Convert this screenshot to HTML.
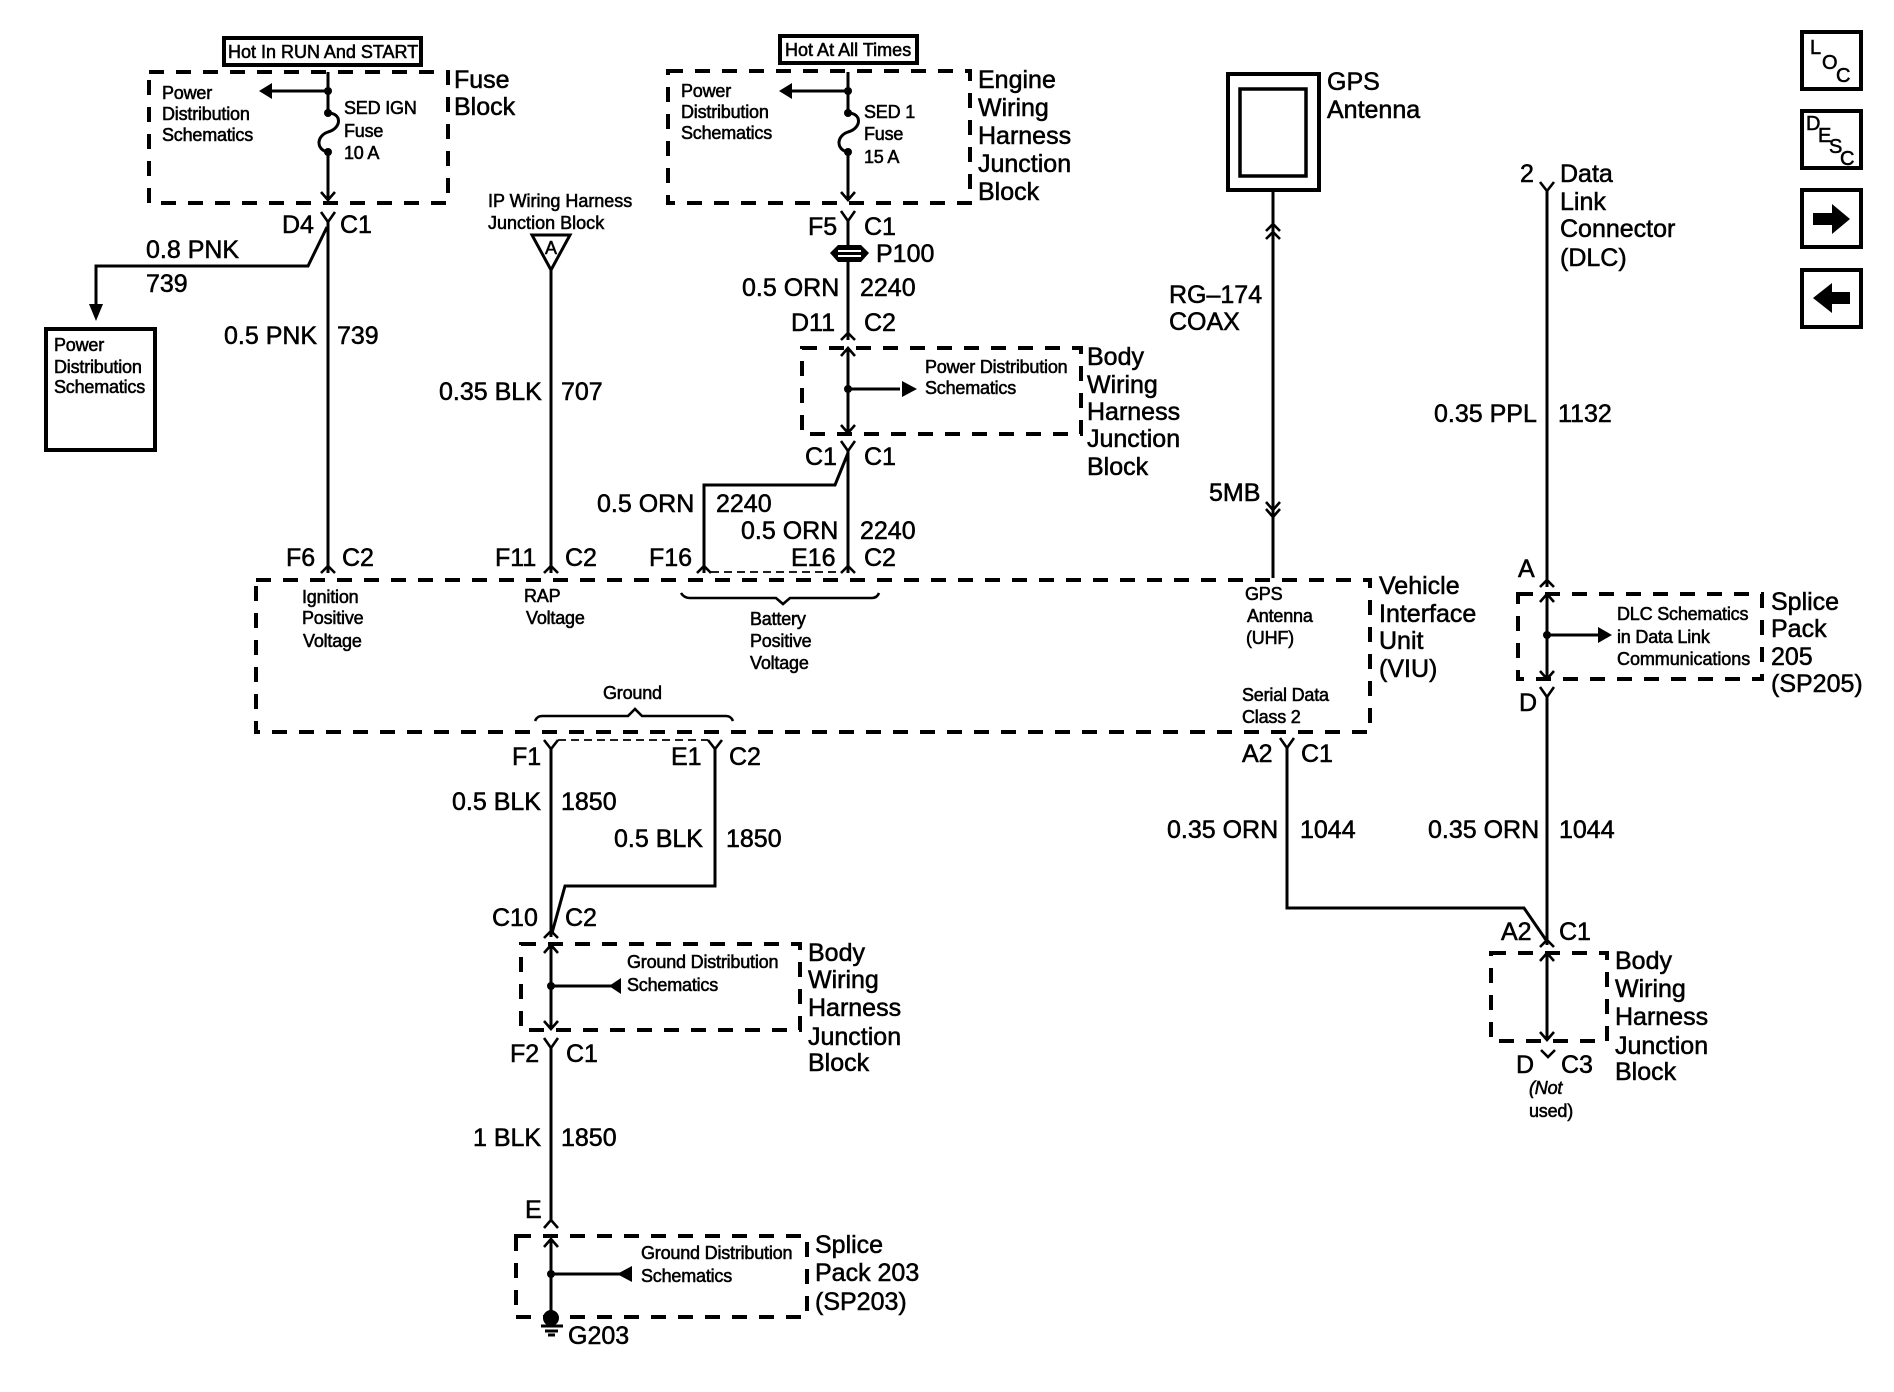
<!DOCTYPE html>
<html><head><meta charset="utf-8"><title>VIU Schematic</title>
<style>
html,body{margin:0;padding:0;background:#fff}
svg{display:block}
text{font-family:"Liberation Sans",sans-serif;fill:#000;stroke:#000;stroke-width:.55}
.l{font-size:25px}
.s{font-size:18px;letter-spacing:-.2px}
.w{fill:none;stroke:#000;stroke-width:3}
.c{fill:none;stroke:#000;stroke-width:2.6}
.d{fill:none;stroke:#000;stroke-width:4;stroke-dasharray:15 12}
.t{fill:none;stroke:#000;stroke-width:1.8;stroke-dasharray:8 5}
.b{fill:none;stroke:#000;stroke-width:4}
.f{fill:#000;stroke:none}
</style></head><body>
<svg width="1894" height="1392" viewBox="0 0 1894 1392" xmlns="http://www.w3.org/2000/svg">
<rect width="1894" height="1392" fill="#fff"/>

<!-- Fuse block -->
<rect class="b" x="224" y="38" width="197" height="27"/>
<text class="s" x="228" y="58" textLength="190">Hot In RUN And START</text>
<rect class="d" x="149" y="72" width="299" height="131"/>
<path class="w" d="M328 72V113M328 152V200M328 91H270"/>
<path class="w" d="M328 113C342 113 342 128 328 132C316 136 316 150 328 152"/>
<circle class="f" cx="328" cy="91" r="4"/><circle class="f" cx="328" cy="113" r="4"/><circle class="f" cx="328" cy="152" r="4"/>
<polygon class="f" points="259,91 272,83 272,99"/>
<path class="c" d="M321 192L328 200L335 192"/>
<text class="s" x="162" y="99">Power</text><text class="s" x="162" y="120">Distribution</text><text class="s" x="162" y="141">Schematics</text>
<text class="s" x="344" y="114">SED IGN</text><text class="s" x="344" y="137">Fuse</text><text class="s" x="344" y="159">10 A</text>
<text class="l" x="454" y="88">Fuse</text><text class="l" x="454" y="115">Block</text>
<path class="c" d="M321 212L328 222L335 212"/>
<text class="l" x="282" y="233">D4</text><text class="l" x="340" y="233">C1</text>
<path class="w" d="M328 222V573"/>
<path class="w" d="M327 227L308 266H96V305"/>
<polygon class="f" points="89,304 103,304 96,321"/>
<text class="l" x="146" y="258">0.8 PNK</text><text class="l" x="146" y="292">739</text>
<rect class="b" x="46" y="329" width="109" height="121"/>
<text class="s" x="54" y="351">Power</text><text class="s" x="54" y="373">Distribution</text><text class="s" x="54" y="393">Schematics</text>
<text class="l" x="224" y="344">0.5 PNK</text><text class="l" x="337" y="344">739</text>

<!-- IP -->
<text class="s" x="488" y="207" textLength="144">IP Wiring Harness</text>
<text class="s" x="488" y="229" textLength="116">Junction Block</text>
<polygon points="532,235 570,235 551,270" fill="#fff" stroke="#000" stroke-width="3"/>
<text class="s" x="545" y="254">A</text>
<path class="w" d="M551 270V573"/>
<text class="l" x="439" y="400">0.35 BLK</text><text class="l" x="561" y="400">707</text>

<!-- Engine block -->
<rect class="b" x="780" y="36" width="137" height="27"/>
<text class="s" x="785" y="56" textLength="126">Hot At All Times</text>
<rect class="d" x="668" y="71" width="302" height="132"/>
<path class="w" d="M848 72V113M848 152V200M848 91H790"/>
<path class="w" d="M848 113C862 113 862 128 848 132C836 136 836 150 848 152"/>
<circle class="f" cx="848" cy="91" r="4"/><circle class="f" cx="848" cy="113" r="4"/><circle class="f" cx="848" cy="152" r="4"/>
<polygon class="f" points="779,91 792,83 792,99"/>
<path class="c" d="M841 192L848 200L855 192"/>
<text class="s" x="681" y="97">Power</text><text class="s" x="681" y="118">Distribution</text><text class="s" x="681" y="139">Schematics</text>
<text class="s" x="864" y="118">SED 1</text><text class="s" x="864" y="140">Fuse</text><text class="s" x="864" y="163">15 A</text>
<text class="l" x="978" y="88">Engine</text><text class="l" x="978" y="116">Wiring</text><text class="l" x="978" y="144">Harness</text><text class="l" x="978" y="172">Junction</text><text class="l" x="978" y="200">Block</text>
<path class="c" d="M841 211L848 221L855 211"/>
<text class="l" x="808" y="235">F5</text><text class="l" x="864" y="235">C1</text>
<path class="w" d="M848 221V340"/>
<polygon class="f" points="830,253 838,245 861,245 869,253 861,262 838,262"/>
<rect x="838" y="250" width="23" height="2" fill="#fff"/><rect x="838" y="255" width="23" height="2" fill="#fff"/>
<text class="l" x="876" y="262">P100</text>
<text class="l" x="742" y="296">0.5 ORN</text><text class="l" x="860" y="296">2240</text>
<text class="l" x="791" y="331">D11</text><text class="l" x="864" y="331">C2</text>
<path class="c" d="M841 340L848 333L855 340"/>

<!-- Body JB upper -->
<rect class="d" x="802" y="348" width="279" height="86"/>
<path class="w" d="M848 348V433M848 389H900"/>
<path class="c" d="M841 356L848 348L855 356M841 425L848 433L855 425"/>
<circle class="f" cx="848" cy="389" r="4"/>
<polygon class="f" points="902,381 917,389 902,397"/>
<text class="s" x="925" y="373">Power Distribution</text><text class="s" x="925" y="394">Schematics</text>
<text class="l" x="1087" y="365">Body</text><text class="l" x="1087" y="393">Wiring</text><text class="l" x="1087" y="420">Harness</text><text class="l" x="1087" y="447">Junction</text><text class="l" x="1087" y="475">Block</text>
<path class="c" d="M841 441L848 451L855 441"/>
<text class="l" x="805" y="465">C1</text><text class="l" x="864" y="465">C1</text>
<path class="w" d="M848 451V573M848 453L835 485H704V573"/>
<text class="l" x="597" y="512">0.5 ORN</text><text class="l" x="716" y="512">2240</text>
<text class="l" x="741" y="539">0.5 ORN</text><text class="l" x="860" y="539">2240</text>
<text class="l" x="286" y="566">F6</text><text class="l" x="342" y="566">C2</text>
<text class="l" x="495" y="566">F11</text><text class="l" x="565" y="566">C2</text>
<text class="l" x="649" y="566">F16</text><text class="l" x="791" y="566">E16</text><text class="l" x="864" y="566">C2</text>
<path class="c" d="M321 573L328 566L335 573M544 573L551 566L558 573M697 573L704 566L711 573M841 573L848 566L855 573"/>
<path class="t" d="M711 572H842"/>

<!-- VIU -->
<rect class="d" x="256" y="580" width="1114" height="152"/>
<text class="s" x="302" y="603">Ignition</text><text class="s" x="302" y="624">Positive</text><text class="s" x="303" y="647">Voltage</text>
<text class="s" x="524" y="602">RAP</text><text class="s" x="526" y="624">Voltage</text>
<path class="c" d="M681 593Q684 598 690 598H776L783 604L790 598H872Q877 598 879 593"/>
<text class="s" x="750" y="625">Battery</text><text class="s" x="750" y="647">Positive</text><text class="s" x="750" y="669">Voltage</text>
<text class="s" x="603" y="699">Ground</text>
<path class="c" d="M535 721Q537 716 542 716H628L635 709L642 716H726Q731 716 733 721"/>
<text class="s" x="1245" y="600">GPS</text><text class="s" x="1247" y="622">Antenna</text><text class="s" x="1246" y="644">(UHF)</text>
<text class="s" x="1242" y="701">Serial Data</text><text class="s" x="1242" y="723">Class 2</text>
<text class="l" x="1379" y="594">Vehicle</text><text class="l" x="1379" y="622">Interface</text><text class="l" x="1379" y="649">Unit</text><text class="l" x="1379" y="677">(VIU)</text>

<!-- Ground wiring -->
<path class="t" d="M558 740H708"/>
<path class="c" d="M544 740L551 749L558 740M708 740L715 749L722 740"/>
<path class="w" d="M551 749V937M715 749V886H565L552 933"/>
<text class="l" x="512" y="765">F1</text><text class="l" x="671" y="765">E1</text><text class="l" x="729" y="765">C2</text>
<text class="l" x="452" y="810">0.5 BLK</text><text class="l" x="561" y="810">1850</text>
<text class="l" x="614" y="847">0.5 BLK</text><text class="l" x="726" y="847">1850</text>
<text class="l" x="492" y="926">C10</text><text class="l" x="565" y="926">C2</text>
<path class="c" d="M544 938L551 931L558 938"/>

<!-- Body JB lower -->
<rect class="d" x="521" y="944" width="279" height="86"/>
<path class="w" d="M551 945V1029M551 986H612"/>
<path class="c" d="M544 953L551 945L558 953M544 1021L551 1029L558 1021"/>
<circle class="f" cx="551" cy="986" r="4"/>
<polygon class="f" points="609,986 621,978 621,994"/>
<text class="s" x="627" y="968">Ground Distribution</text><text class="s" x="627" y="991">Schematics</text>
<text class="l" x="808" y="961">Body</text><text class="l" x="808" y="988">Wiring</text><text class="l" x="808" y="1016">Harness</text><text class="l" x="808" y="1045">Junction</text><text class="l" x="808" y="1071">Block</text>
<path class="c" d="M544 1038L551 1048L558 1038"/>
<text class="l" x="510" y="1062">F2</text><text class="l" x="566" y="1062">C1</text>
<path class="w" d="M551 1048V1222"/>
<text class="l" x="473" y="1146">1 BLK</text><text class="l" x="561" y="1146">1850</text>
<text class="l" x="525" y="1218">E</text>
<path class="c" d="M544 1228L551 1220L558 1228"/>

<!-- Splice 203 -->
<rect class="d" x="516" y="1236" width="291" height="81"/>
<path class="w" d="M551 1239V1317M551 1274H620"/>
<path class="c" d="M544 1247L551 1239L558 1247"/>
<circle class="f" cx="551" cy="1274" r="4"/>
<polygon class="f" points="617,1274 632,1266 632,1282"/>
<text class="s" x="641" y="1259">Ground Distribution</text><text class="s" x="641" y="1282">Schematics</text>
<text class="l" x="815" y="1253">Splice</text><text class="l" x="815" y="1281">Pack 203</text><text class="l" x="815" y="1310">(SP203)</text>
<circle class="f" cx="551" cy="1318" r="8"/>
<path class="w" d="M541 1326H563M545 1331H558M548 1335H555"/>
<text class="l" x="568" y="1344">G203</text>

<!-- GPS -->
<rect x="1228" y="74" width="91" height="116" fill="none" stroke="#000" stroke-width="4"/>
<rect x="1240" y="89" width="66" height="87" fill="none" stroke="#000" stroke-width="3.5"/>
<text class="l" x="1327" y="90">GPS</text><text class="l" x="1327" y="118">Antenna</text>
<path class="w" d="M1273 192V578"/>
<path class="c" d="M1266 231L1273 224L1280 231M1266 239L1273 232L1280 239"/>
<path class="c" d="M1266 502L1273 510L1280 502M1266 509L1273 517L1280 509"/>
<text class="l" x="1169" y="303">RG&#8211;174</text><text class="l" x="1169" y="330">COAX</text>
<text class="l" x="1209" y="501">5MB</text>

<!-- DLC -->
<text class="l" x="1520" y="182">2</text>
<path class="c" d="M1540 182L1547 191L1554 182"/>
<path class="w" d="M1547 191V587"/>
<text class="l" x="1560" y="182">Data</text><text class="l" x="1560" y="210">Link</text><text class="l" x="1560" y="237">Connector</text><text class="l" x="1560" y="266">(DLC)</text>
<text class="l" x="1434" y="422">0.35 PPL</text><text class="l" x="1558" y="422">1132</text>
<text class="l" x="1518" y="577">A</text>
<path class="c" d="M1540 587L1547 580L1554 587"/>

<!-- Splice 205 -->
<rect class="d" x="1518" y="594" width="244" height="85"/>
<path class="w" d="M1547 594V679M1547 635H1600"/>
<path class="c" d="M1540 602L1547 594L1554 602M1540 671L1547 679L1554 671"/>
<circle class="f" cx="1547" cy="635" r="4"/>
<polygon class="f" points="1598,627 1612,635 1598,643"/>
<text class="s" x="1617" y="620">DLC Schematics</text><text class="s" x="1617" y="643">in Data Link</text><text class="s" x="1617" y="665" textLength="133">Communications</text>
<text class="l" x="1771" y="610">Splice</text><text class="l" x="1771" y="637">Pack</text><text class="l" x="1771" y="665">205</text><text class="l" x="1771" y="692">(SP205)</text>
<path class="c" d="M1540 687L1547 697L1554 687"/>
<text class="l" x="1519" y="711">D</text>
<path class="w" d="M1547 697V945"/>

<!-- A2 1044 -->
<path class="c" d="M1280 738L1287 748L1294 738"/>
<text class="l" x="1242" y="762">A2</text><text class="l" x="1301" y="762">C1</text>
<path class="w" d="M1287 748V908H1524L1546 940"/>
<text class="l" x="1167" y="838">0.35 ORN</text><text class="l" x="1300" y="838">1044</text>
<text class="l" x="1428" y="838">0.35 ORN</text><text class="l" x="1559" y="838">1044</text>
<text class="l" x="1501" y="940">A2</text><text class="l" x="1559" y="940">C1</text>
<path class="c" d="M1540 947L1547 940L1554 947"/>

<!-- Body JB right -->
<rect class="d" x="1491" y="953" width="116" height="88"/>
<path class="w" d="M1547 953V1040"/>
<path class="c" d="M1540 961L1547 953L1554 961M1540 1032L1547 1040L1554 1032"/>
<path class="c" d="M1541 1050L1548 1057L1555 1050"/>
<text class="l" x="1516" y="1073">D</text><text class="l" x="1561" y="1073">C3</text>
<text class="s" x="1529" y="1094" font-style="italic">(Not</text><text class="s" x="1529" y="1117">used)</text>
<text class="l" x="1615" y="969">Body</text><text class="l" x="1615" y="997">Wiring</text><text class="l" x="1615" y="1025">Harness</text><text class="l" x="1615" y="1054">Junction</text><text class="l" x="1615" y="1080">Block</text>

<!-- Icons -->
<rect class="b" x="1802" y="32" width="59" height="57"/>
<text x="1810" y="54" font-size="20">L</text><text x="1822" y="69" font-size="20">O</text><text x="1836" y="82" font-size="20">C</text>
<rect class="b" x="1802" y="111" width="59" height="57"/>
<text x="1806" y="130" font-size="20">D</text><text x="1818" y="142" font-size="20">E</text><text x="1829" y="153" font-size="20">S</text><text x="1840" y="165" font-size="20">C</text>
<rect class="b" x="1802" y="190" width="59" height="57"/>
<polygon class="f" points="1813,213 1832,213 1832,204 1850,219 1832,234 1832,225 1813,225"/>
<rect class="b" x="1802" y="270" width="59" height="57"/>
<polygon class="f" points="1850,292 1832,292 1832,283 1813,298 1832,313 1832,304 1850,304"/>
</svg>
</body></html>
